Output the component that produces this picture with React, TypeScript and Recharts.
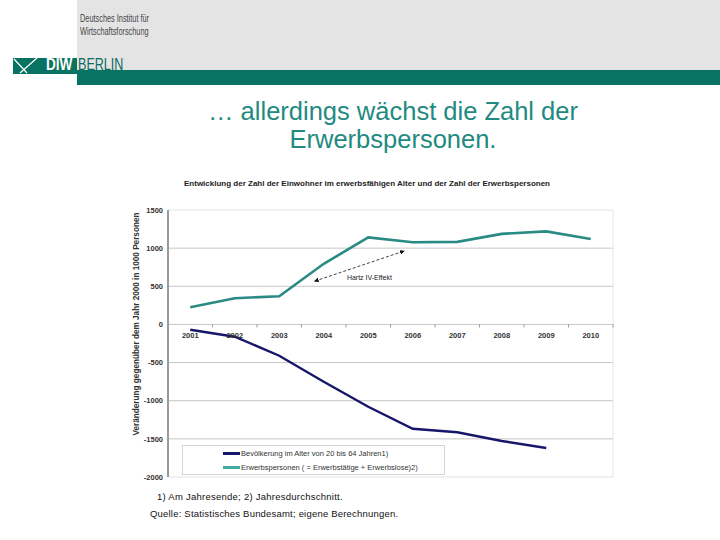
import React from 'react';
import {
  LineChart,
  Line,
  XAxis,
  YAxis,
  CartesianGrid,
  ReferenceLine,
  ReferenceDot,
  Legend,
} from 'recharts';

// ---------- data ----------
const years = [2001, 2002, 2003, 2004, 2005, 2006, 2007, 2008, 2009, 2010];
const bevoelkerung = [-69, -161, -410, -751, -1079, -1367, -1414, -1528, -1620, null];
const erwerbspersonen = [225, 343, 369, 795, 1140, 1077, 1082, 1187, 1220, 1120];
const yTicks = [1500, 1000, 500, 0, -500, -1000, -1500, -2000];
const gridValues = [1000, 500, -500, -1000, -1500];
const seriesNames = [
  'Bevölkerung im Alter von 20 bis 64 Jahren1)',
  'Erwerbspersonen ( = Erwerbstätige + Erwerbslose)2)',
];
const annotationText = 'Hartz IV-Effekt';
const annotationFrom = { x: 2003.8, y: 568 };
const annotationTo = { x: 2005.8, y: 961 };
const annotationLabel = { x: 2004.52, y: 620 };

const titleLines = ['… allerdings wächst die Zahl der', 'Erwerbspersonen.'];
const chartTitle =
  'Entwicklung der Zahl der Einwohner im erwerbsfähigen Alter und der Zahl der Erwerbspersonen';
const yAxisTitle = 'Veränderung gegenüber dem Jahr 2000 in 1000 Personen';
const footnotes = [
  '1) Am Jahresende; 2) Jahresdurchschnitt.',
  'Quelle: Statistisches Bundesamt; eigene Berechnungen.',
];
const instituteLines = ['Deutsches Institut für', 'Wirtschaftsforschung'];

const data = years.map((year, i) => ({
  year,
  bev: bevoelkerung[i],
  erw: erwerbspersonen[i],
}));
const boundaries = years.map((y) => y - 0.5).concat([years[years.length - 1] + 0.5]);

const NAVY = '#16166a';
const TEAL = '#2a8a84';
const TEAL_LEGEND = '#45aaa2';
const FONT = "'Liberation Sans', Arial, sans-serif";

const LegendContent = () => (
  <div
    style={{
      width: 263,
      height: 30,
      boxSizing: 'border-box',
      border: '1px solid #d4d4d4',
      background: '#fff',
      position: 'relative',
      fontFamily: FONT,
      fontSize: 7.5,
      color: '#333',
    }}
  >
    {[NAVY, TEAL_LEGEND].map((c, i) => (
      <div
        key={i}
        style={{
          position: 'absolute',
          left: 40,
          top: 1.7 + i * 14,
          height: 12,
          display: 'flex',
          alignItems: 'center',
          whiteSpace: 'nowrap',
        }}
      >
        <span style={{ display: 'inline-block', width: 17, height: 3, background: c, marginRight: 1 }} />
        <span>{seriesNames[i]}</span>
      </div>
    ))}
  </div>
);

export default function App() {
  return (
    <div style={{ position: 'absolute', left: 0, top: 0, width: 720, height: 540, background: '#fff', overflow: 'hidden' }}>
      {/* header */}
      <div style={{ position: 'absolute', left: 77, top: 0, width: 643, height: 70, background: '#e4e4e4' }} />
      <div style={{ position: 'absolute', left: 77, top: 70, width: 643, height: 15, background: '#087362' }} />
      <div
        style={{
          position: 'absolute',
          left: 80,
          top: 12,
          fontFamily: FONT,
          fontSize: 10.5,
          lineHeight: '13px',
          color: '#444',
          transform: 'scaleX(0.7)',
          transformOrigin: 'left top',
          whiteSpace: 'nowrap',
        }}
      >
        {instituteLines.map((t, i) => (
          <div key={i}>{t}</div>
        ))}
      </div>
      <svg style={{ position: 'absolute', left: 0, top: 50 }} width={80} height={30}>
        <rect x={13} y={8} width={64} height={16} fill="#087362" />
        <path d="M14 9 L27 23 M20 23 L37 8" stroke="#fff" strokeWidth={1.2} fill="none" />
      </svg>
      <div
        style={{
          position: 'absolute',
          left: 46,
          top: 55,
          fontFamily: FONT,
          fontWeight: 'bold',
          fontSize: 17,
          color: '#fff',
          lineHeight: '20px',
          transform: 'scaleX(0.8)',
          transformOrigin: 'left top',
        }}
      >
        DIW
      </div>
      <div
        style={{
          position: 'absolute',
          left: 78,
          top: 55,
          fontFamily: FONT,
          fontSize: 17,
          color: '#0b6e62',
          lineHeight: '20px',
          transform: 'scaleX(0.74)',
          transformOrigin: 'left top',
        }}
      >
        BERLIN
      </div>

      {/* slide title */}
      <div
        style={{
          position: 'absolute',
          left: 143,
          top: 97,
          width: 500,
          textAlign: 'center',
          fontFamily: FONT,
          fontSize: 25.5,
          lineHeight: '28px',
          color: '#1f8a80',
          whiteSpace: 'nowrap',
        }}
      >
        {titleLines.map((t, i) => (
          <div key={i}>{t}</div>
        ))}
      </div>

      {/* chart title */}
      <div
        style={{
          position: 'absolute',
          left: 167,
          top: 178,
          width: 400,
          textAlign: 'center',
          fontFamily: FONT,
          fontWeight: 'bold',
          fontSize: 8,
          lineHeight: '12px',
          color: '#222',
          whiteSpace: 'nowrap',
        }}
      >
        {chartTitle}
      </div>

      {/* y axis title */}
      <div
        style={{
          position: 'absolute',
          left: 137 - 150,
          top: 324 - 6,
          width: 300,
          height: 12,
          lineHeight: '12px',
          textAlign: 'center',
          transform: 'rotate(-90deg)',
          fontFamily: FONT,
          fontWeight: 'bold',
          fontSize: 8.2,
          color: '#333',
          whiteSpace: 'nowrap',
        }}
      >
        {yAxisTitle}
      </div>

      <div style={{ position: 'absolute', left: 120, top: 170 }}>
        <LineChart
          width={510}
          height={320}
          data={data}
          margin={{ top: 40, right: 17, left: 0, bottom: 13 }}
        >
          <CartesianGrid horizontal vertical={false} horizontalValues={gridValues} stroke="#c6c6c6" />
          <ReferenceLine y={1500} stroke="#e2e2e2" />
          <ReferenceLine y={-2000} stroke="#e2e2e2" />
          <ReferenceLine x={2010.5} stroke="#e6e6e6" />
          <ReferenceLine y={0} stroke="#c6c6c6" />
          <XAxis dataKey="year" type="number" domain={[2000.5, 2010.5]} hide />
          <YAxis
            type="number"
            domain={[-2000, 1500]}
            ticks={yTicks}
            interval={0}
            width={48}
            tickLine={false}
            tickSize={0}
            tickMargin={5}
            axisLine={{ stroke: '#9a9a9a', strokeWidth: 2 }}
            tick={{ fontSize: 7.5, fontWeight: 'bold', fill: '#333', fontFamily: FONT }}
          />
          {boundaries.map((b) => (
            <ReferenceDot
              key={'t' + b}
              x={b}
              y={0}
              r={0}
              isFront={false}
              shape={(p: any) => (
                <line x1={p.cx} x2={p.cx} y1={p.cy} y2={p.cy + 3} stroke="#999" strokeWidth={1} />
              )}
            />
          ))}
          {years.map((yr) => (
            <ReferenceDot
              key={'l' + yr}
              x={yr}
              y={0}
              r={0}
              shape={(p: any) => (
                <text
                  x={p.cx}
                  y={p.cy + 14}
                  textAnchor="middle"
                  fontSize={7.5}
                  fontWeight="bold"
                  fill="#333"
                  fontFamily={FONT}
                >
                  {yr}
                </text>
              )}
            />
          ))}
          <Line
            type="linear"
            dataKey="erw"
            name={seriesNames[1]}
            stroke={TEAL}
            strokeWidth={2.6}
            dot={false}
            isAnimationActive={false}
          />
          <Line
            type="linear"
            dataKey="bev"
            name={seriesNames[0]}
            stroke={NAVY}
            strokeWidth={2.4}
            dot={false}
            isAnimationActive={false}
          />
          <ReferenceLine
            segment={[annotationFrom, annotationTo]}
            shape={(p: any) => (
              <g>
                <defs>
                  <marker id="arrowHead" viewBox="0 0 10 10" refX="8" refY="5" markerWidth="6" markerHeight="6" orient="auto-start-reverse">
                    <path d="M0 0 L10 5 L0 10 z" fill="#111" />
                  </marker>
                </defs>
                <line
                  x1={p.x1}
                  y1={p.y1}
                  x2={p.x2}
                  y2={p.y2}
                  stroke="#111"
                  strokeWidth={0.8}
                  strokeDasharray="3 2"
                  markerStart="url(#arrowHead)"
                  markerEnd="url(#arrowHead)"
                />
              </g>
            )}
          />
          <ReferenceDot
            x={annotationLabel.x}
            y={annotationLabel.y}
            r={0}
            shape={(p: any) => (
              <text x={p.cx} y={p.cy} dy="0.35em" fontSize={7} fill="#222" fontFamily={FONT}>
                {annotationText}
              </text>
            )}
          />
          <Legend
            layout="vertical"
            align="center"
            verticalAlign="middle"
            wrapperStyle={{ left: 62, top: 275, width: 263, height: 30 }}
            content={() => <LegendContent />}
          />
        </LineChart>
      </div>

      {/* footnotes */}
      <div style={{ position: 'absolute', left: 157, top: 491, fontFamily: FONT, fontSize: 9.5, letterSpacing: 0.25, color: '#111', whiteSpace: 'nowrap', lineHeight: '12px' }}>
        {footnotes[0]}
      </div>
      <div style={{ position: 'absolute', left: 150, top: 508, fontFamily: FONT, fontSize: 9.5, letterSpacing: 0.2, color: '#111', whiteSpace: 'nowrap', lineHeight: '12px' }}>
        {footnotes[1]}
      </div>
    </div>
  );
}
